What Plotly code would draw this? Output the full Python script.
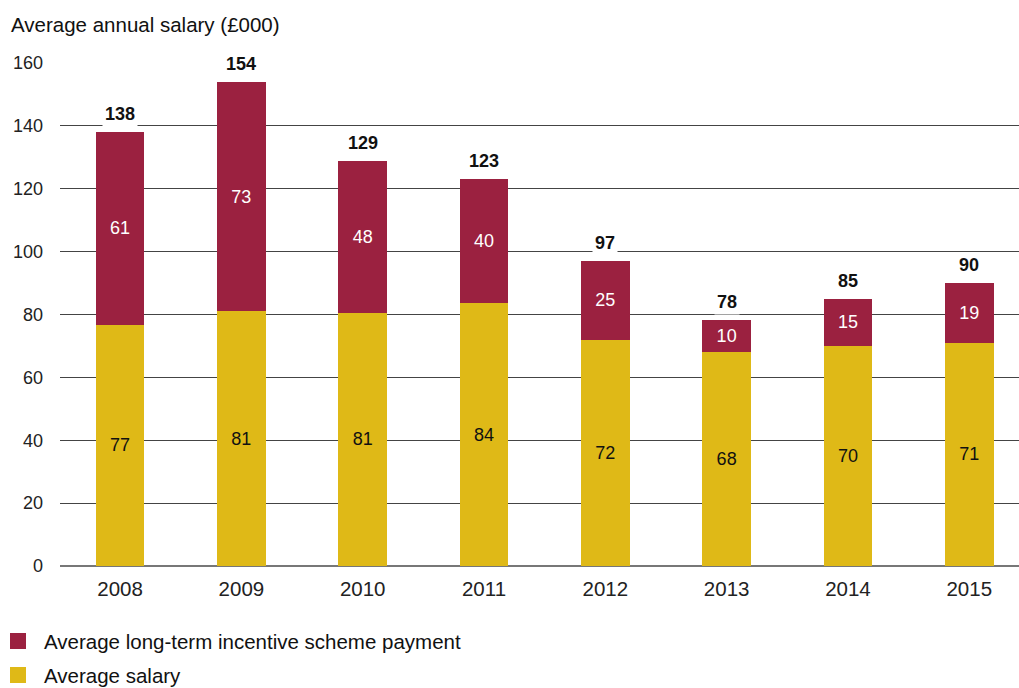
import plotly.graph_objects as go

years = ["2008", "2009", "2010", "2011", "2012", "2013", "2014", "2015"]
salary = [76.8, 81.0, 80.6, 83.6, 72.0, 68.0, 70.0, 71.0]
incentive = [61.2, 73.0, 48.2, 39.6, 25.0, 10.2, 15.0, 19.0]
series_names = ["Average long-term incentive scheme payment", "Average salary"]
y_ticks = [0, 20, 40, 60, 80, 100, 120, 140, 160]

RED = "#9b2140"
GOLD = "#dfb917"
FONT = "Liberation Sans"

W, H = 1019, 688
ML, MR, MT, MB = 60, 0, 63, 122
PW, PH = W - ML - MR, H - MT - MB


def px_x(x):
    return (x - ML) / PW


def px_y(y):
    return (H - MB - y) / PH


totals = [s + i for s, i in zip(salary, incentive)]

fig = go.Figure()
fig.add_bar(
    x=years, y=salary, name=series_names[1], marker_color=GOLD, marker_line_width=0,
    width=0.4, text=salary, texttemplate="%{y:.0f}", textposition="inside",
    insidetextanchor="middle", constraintext="none",
    textfont=dict(family=FONT, size=18, color="#111"),
)
fig.add_bar(
    x=years, y=incentive, name=series_names[0], marker_color=RED, marker_line_width=0,
    width=0.4, text=incentive, texttemplate="%{y:.0f}", textposition="inside",
    insidetextanchor="middle", constraintext="none",
    textfont=dict(family=FONT, size=18, color="white"),
)

# totals above each stack, on a white plate so gridlines break behind them
for idx, t in enumerate(totals):
    fig.add_annotation(
        x=idx, y=t, text=f"<b>{t:.0f}</b>", showarrow=False, yanchor="bottom",
        yshift=5, bgcolor="white", borderpad=2,
        font=dict(family=FONT, size=18, color="#111"),
    )

# axis title
fig.add_annotation(
    x=px_x(9), y=px_y(24), xref="paper", yref="paper", xanchor="left", yanchor="middle",
    text="Average annual salary (£000)", showarrow=False,
    font=dict(family=FONT, size=20.5, color="#111"),
)

# legend drawn as swatches + labels
legend_rows = [(series_names[0], RED, 641), (series_names[1], GOLD, 675)]
for name, col, cy in legend_rows:
    fig.add_shape(
        type="rect", xref="paper", yref="paper",
        x0=px_x(10), x1=px_x(26), y0=px_y(cy - 8), y1=px_y(cy + 8),
        fillcolor=col, line_width=0,
    )
    fig.add_annotation(
        x=px_x(42), y=px_y(cy), xref="paper", yref="paper", xanchor="left",
        yanchor="middle", text=name, showarrow=False,
        font=dict(family=FONT, size=20.5, color="#111"),
    )

fig.update_layout(
    width=W, height=H, barmode="stack", showlegend=False,
    margin=dict(l=ML, r=MR, t=MT, b=MB, pad=0),
    paper_bgcolor="white", plot_bgcolor="white",
    font=dict(family=FONT, size=18, color="#222"),
)
fig.update_xaxes(
    type="category", range=[-0.495, 7.41], showgrid=False, ticks="", showline=False,
    tickfont=dict(family=FONT, size=20.5, color="#222"), ticklabelstandoff=8,
)
fig.update_yaxes(
    range=[0, 160], tickvals=y_ticks, showgrid=True, gridcolor="#444", gridwidth=1,
    zeroline=True, zerolinecolor="#777", zerolinewidth=1.5, ticks="",
    tickfont=dict(family=FONT, size=18, color="#222"), ticklabelstandoff=16,
)

fig.write_html("out.html")
